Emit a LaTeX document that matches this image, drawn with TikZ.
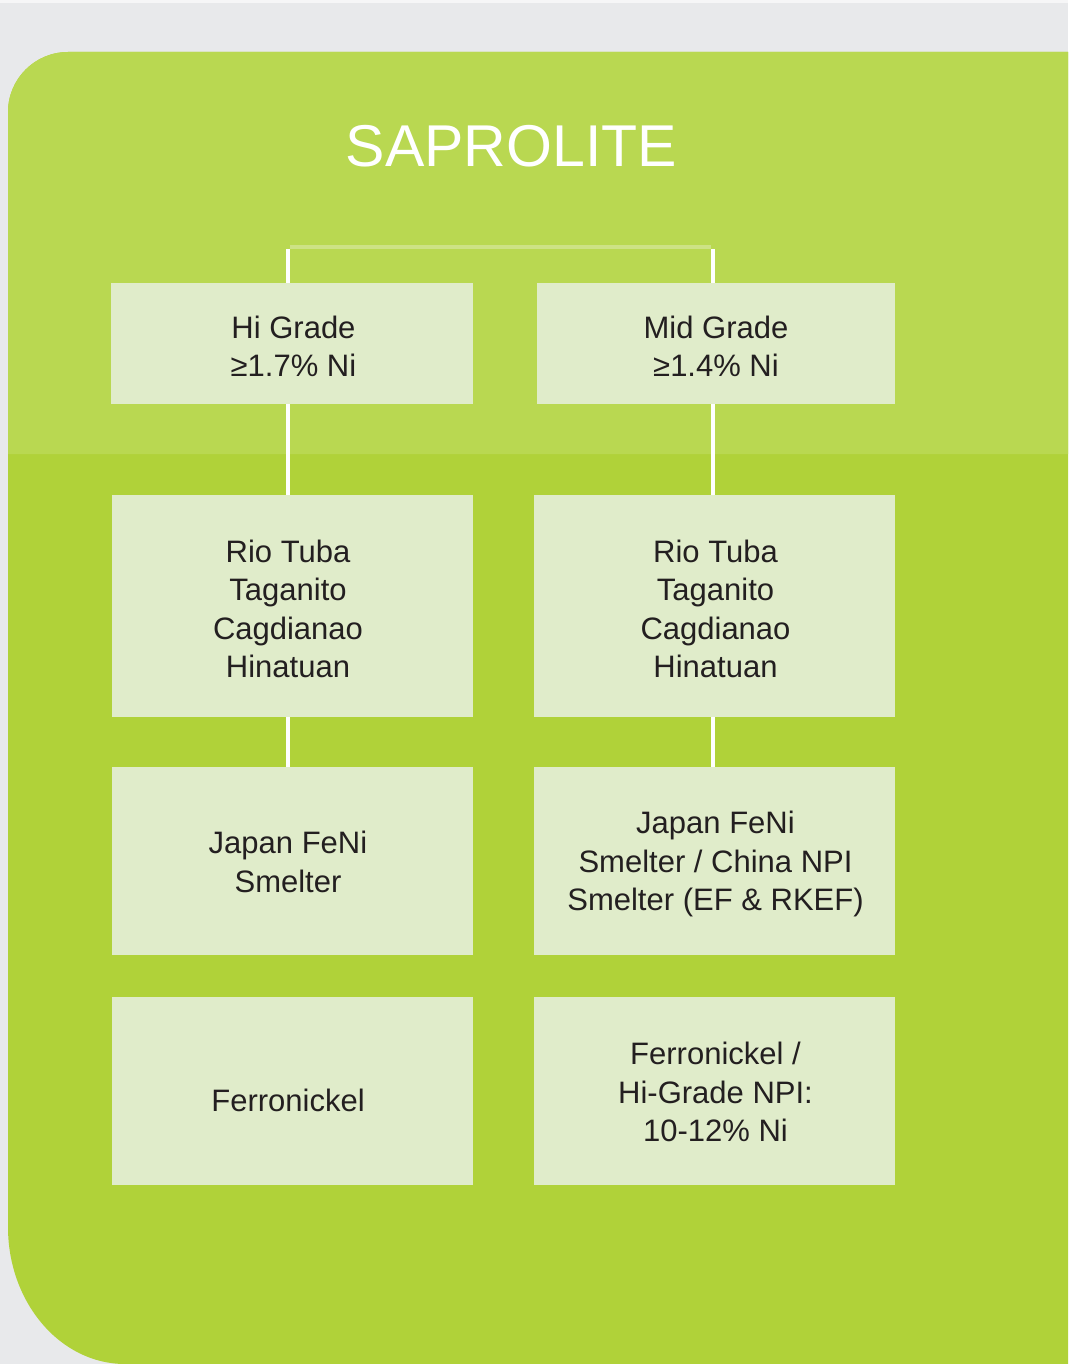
\documentclass[tikz,border=0pt]{standalone}
\usepackage{fontspec}
\setmainfont{Liberation Sans}
\definecolor{bggray}{HTML}{E8E9EB}
\definecolor{topgreen}{HTML}{B9D851}
\definecolor{lowgreen}{HTML}{B0D239}
\definecolor{boxfill}{HTML}{E0ECCA}
\definecolor{txt}{HTML}{231F20}
\definecolor{topline}{HTML}{CDE285}
\begin{document}
\begin{tikzpicture}[x=1pt,y=-1pt,
  gbox/.style={fill=boxfill, draw=none, inner sep=0pt},
  gtext/.style={inner sep=0pt, align=center, text=txt,
    font=\fontsize{31}{38.5}\selectfont},
  conn/.style={draw=white, line width=4pt},
  topconn/.style={draw=topline, line width=4pt}]
\useasboundingbox (0,0) rectangle (1068,1364);
% background
\fill[bggray] (0,0) rectangle (1068,1364);
\fill[white!60!bggray] (0,0) rectangle (1068,3);
% green panel (lower colour)
\fill[lowgreen] (8,112) .. controls (8,78.9) and (34.9,52) .. (68,52)
  -- (1068,52) -- (1068,1364) -- (125,1364)
  .. controls (60.4,1364) and (8,1302.6) .. (8,1227) -- cycle;
% upper lighter band
\fill[topgreen] (8,112) .. controls (8,78.9) and (34.9,52) .. (68,52)
  -- (1068,52) -- (1068,454) -- (8,454) -- cycle;
% title
\node[text=white, font=\fontsize{59}{66}\selectfont, inner sep=0pt, anchor=base]
  (title) at (511.5,167) {SAPROLITE};
% boxes
\node[gbox, minimum width=362pt, minimum height=121pt] (h1) at (292,343.5) {};
\node[gbox, minimum width=358pt, minimum height=121pt] (h2) at (716,343.5) {};
\node[gbox, minimum width=361pt, minimum height=222pt] (r1) at (292.5,606) {};
\node[gbox, minimum width=361pt, minimum height=222pt] (r2) at (714.5,606) {};
\node[gbox, minimum width=361pt, minimum height=188pt] (s1) at (292.5,861) {};
\node[gbox, minimum width=361pt, minimum height=188pt] (s2) at (714.5,861) {};
\node[gbox, minimum width=361pt, minimum height=188pt] (p1) at (292.5,1091) {};
\node[gbox, minimum width=361pt, minimum height=188pt] (p2) at (714.5,1091) {};
% texts
\node[gtext] (h1t) at (293.5,346.5) {Hi Grade\\≥1.7\% Ni};
\node[gtext] (h2t) at (716,346.5) {Mid Grade\\≥1.4\% Ni};
\node[gtext] (r1t) at (288,609) {Rio Tuba\\Taganito\\Cagdianao\\Hinatuan};
\node[gtext] (r2t) at (715.5,609) {Rio Tuba\\Taganito\\Cagdianao\\Hinatuan};
\node[gtext] (s1t) at (288,862) {Japan FeNi\\Smelter};
\node[gtext] (s2t) at (715.5,864) {Japan FeNi\\Smelter / China NPI\\Smelter (EF \& RKEF)};
\node[gtext] (p1t) at (288,1100) {Ferronickel};
\node[gtext] (p2t) at (715.5,1092) {Ferronickel /\\Hi-Grade NPI:\\10-12\% Ni};
% connectors
\coordinate (tl) at (288,247);
\coordinate (tr) at (713,247);
\draw[topconn] ([xshift=2pt]tl) -- ([xshift=-2pt]tr);
\draw[conn] ([yshift=-2pt]tl) -- (h1.north -| tl);
\draw[conn] ([yshift=-2pt]tr) -- (h2.north -| tr);
\draw[conn] (h1.south -| tl) -- (r1.north -| tl);
\draw[conn] (h2.south -| tr) -- (r2.north -| tr);
\draw[conn] (r1.south -| tl) -- (s1.north -| tl);
\draw[conn] (r2.south -| tr) -- (s2.north -| tr);
\end{tikzpicture}
\end{document}
